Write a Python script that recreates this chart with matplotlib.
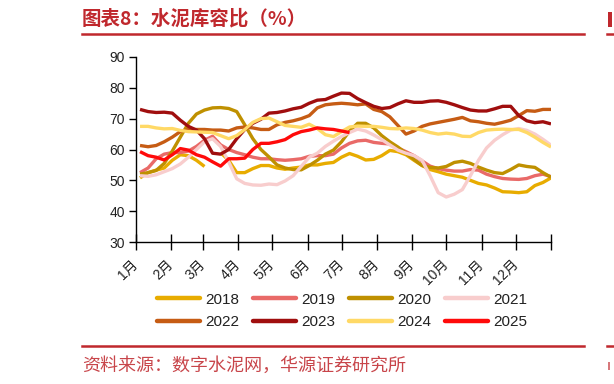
import numpy as np
import matplotlib
matplotlib.use('Agg')
import matplotlib.pyplot as plt
from matplotlib.patches import Rectangle

nan = np.nan
months = ['1月', '2月', '3月', '4月', '5月', '6月', '7月', '8月', '9月', '10月', '11月', '12月']
month_days = [31, 28, 31, 30, 31, 30, 31, 31, 30, 31, 30, 31]
years = ['2018', '2019', '2020', '2021', '2022', '2023', '2024', '2025']

s2018 = [50.8, 52.5, 53.3, 54.0, 56.5, 58.3, 58.0, 56.5, 54.5, nan,
         59.0, 56.5, 52.5, 52.5, 53.8, 54.8, 54.8, 54.0, 53.6, 54.0,
         54.3, 55.0, 55.0, 55.5, 55.8, 57.5, 58.7, 57.8, 56.6, 56.8,
         58.0, 59.7, 59.3, 58.3, 56.5, 54.8, 53.5, 52.8, 52.0, 51.5,
         51.0, 50.0, 49.0, 48.5, 47.5, 46.3, 46.2, 46.0, 46.3, 48.3,
         49.3, 50.8]
s2019 = [52.5, 54.0, 57.0, 58.5, 59.0, 59.0, 59.5, 61.0, 63.0, 64.3,
         61.5, 60.0, 59.0, 58.3, 57.5, 57.0, 57.0, 56.7, 56.5, 56.7,
         57.0, 57.8, 58.0, 58.0, 58.5, 60.5, 62.0, 62.8, 63.0, 62.3,
         62.0, 61.8, 60.5, 59.3, 58.0, 56.3, 54.6, 53.8, 53.3, 53.0,
         53.0, 53.5, 53.3, 52.0, 51.2, 50.6, 50.4, 50.3, 50.6, 51.5,
         52.0, 51.2]
s2020 = [52.0, 52.5, 53.2, 55.5, 59.5, 64.0, 68.5, 71.5, 72.8, 73.5,
         73.6, 73.3, 72.3, 68.0, 63.5, 60.0, 57.6, 55.0, 54.0, 53.5,
         53.4, 54.8, 56.5, 58.5, 59.8, 62.5, 66.0, 68.5, 68.5, 67.0,
         64.5, 62.5, 60.8, 58.8, 56.8, 54.8, 54.2, 54.0, 54.5, 55.8,
         56.2, 55.5, 54.3, 53.3, 52.5, 52.2, 53.5, 55.0, 54.5, 54.2,
         52.5, 51.0]
s2021 = [51.5, 51.3, 51.8, 52.8, 53.8, 55.3, 57.5, 60.0, 62.5, 63.5,
         61.0, 56.0, 50.5, 49.0, 48.5, 48.4, 48.8, 48.6, 49.8, 51.5,
         54.5, 57.5, 58.8, 61.0, 62.7, 64.2, 65.5, 66.6, 66.0, 64.7,
         63.2, 61.5, 59.8, 58.8, 58.0, 56.5, 51.5, 46.0, 44.6, 45.5,
         47.0, 51.5, 56.5, 60.5, 63.0, 64.8, 66.3, 66.8, 66.2, 65.0,
         63.3, 61.4]
s2022 = [61.3, 60.9, 61.3, 62.5, 64.0, 65.8, 66.5, 66.5, 66.5, 66.3,
         66.3, 66.0, 67.0, 67.3, 67.0, 66.5, 66.5, 68.0, 68.8, 69.3,
         70.0, 71.0, 73.5, 74.5, 74.8, 75.0, 74.8, 74.5, 74.8, 73.0,
         72.3, 70.6, 67.8, 65.0, 66.0, 67.5, 68.3, 68.8, 69.3, 69.8,
         70.4, 69.3, 69.0, 68.5, 68.2, 68.8, 69.5, 71.0, 72.6, 72.4,
         73.0, 73.0]
s2023 = [73.0, 72.3, 72.0, 72.1, 71.8, 69.5, 67.5, 66.3, 63.5, 58.8,
         58.5, 60.0, 63.5, 66.5, 68.5, 69.8, 71.8, 72.0, 72.5, 73.2,
         73.7, 75.0, 76.0, 76.2, 77.3, 78.3, 78.2, 76.5, 75.2, 74.0,
         73.3, 73.6, 74.8, 75.8, 75.3, 75.3, 75.7, 75.8, 75.3, 74.5,
         73.6, 72.8, 72.5, 72.5, 73.2, 74.0, 74.0, 71.0, 69.3, 68.7,
         69.0, 68.3]
s2024 = [67.5, 67.5, 67.0, 66.7, 66.8, 66.2, 65.8, 65.7, 65.6, 65.5,
         64.5, 63.5, 64.5, 66.5, 68.8, 70.0, 70.2, 69.0, 67.8, 67.5,
         67.2, 68.2, 66.8, 64.8, 64.2, 65.8, 67.3, 67.6, 67.5, 67.5,
         67.2, 66.8, 66.7, 67.0, 66.8, 66.3, 65.5, 65.0, 65.3, 65.0,
         64.3, 64.2, 65.5, 66.3, 66.5, 66.6, 66.5, 66.5, 65.5, 64.0,
         62.3, 60.8]
s2025 = [59.3, 58.0, 57.5, 56.6, 58.3, 60.3, 59.8, 58.3, 57.5, 56.0,
         54.6, 57.0, 57.0, 57.2, 60.0, 62.0, 62.0, 62.5, 63.2, 64.8,
         65.8, 66.3, 67.0, 66.7, 66.5, 66.0, 65.5]
series = [s2018, s2019, s2020, s2021, s2022, s2023, s2024, s2025]
colors = ['#E8AC00', '#E96A68', '#BF9000', '#F8CDCD',
          '#C65C14', '#A00E0E', '#FFD966', '#FF0A0A']

W, H = 614, 384
fig = plt.figure(figsize=(W / 100, H / 100), dpi=100)
ax = fig.add_axes([136 / W, 1 - 242 / H, 415 / W, 185 / H])

handles = []
for yr, vals, c in zip(years, series, colors):
    wk = np.arange(1, len(vals) + 1)
    h, = ax.plot(wk, vals, color=c, lw=2.4, label=yr,
                 solid_joinstyle='round', solid_capstyle='butt')
    handles.append(h)

ax.set_ylim(30, 90)
ax.set_yticks(np.arange(30, 91, 10))
ax.set_xlim(0.5, 52)
cum = np.concatenate([[0], np.cumsum(month_days)])
ticks = 0.5 + cum / 365 * 51.5
ax.set_xticks(ticks)
ax.set_xticklabels(months + [''])

for s in ['top', 'right']:
    ax.spines[s].set_visible(False)
for s in ['left', 'bottom']:
    ax.spines[s].set_color('black')
    ax.spines[s].set_linewidth(1.0)

ax.tick_params(axis='y', direction='out', length=5, width=1, pad=3,
               labelsize=10, labelcolor='#222222')
ax.tick_params(axis='x', direction='inout', length=11, width=1, pad=9,
               labelsize=10, labelcolor='#222222')
for t in ax.get_yticklabels():
    t.set_fontfamily(['Liberation Sans', 'DejaVu Sans'])
for t in ax.get_xticklabels():
    t.set_fontfamily(['Liberation Sans', 'Noto Sans CJK SC'])
    t.set_rotation(45)
    t.set_ha('right')
    t.set_va('center')
    t.set_rotation_mode('anchor')

# row-major legend order for 2 rows x 4 columns
order = [0, 4, 1, 5, 2, 6, 3, 7]
leg = fig.legend([handles[i] for i in order], [years[i] for i in order],
                 loc='center', bbox_to_anchor=(342 / W, 1 - 311 / H), ncol=4,
                 frameon=False, fontsize=11, handlelength=2.8, handletextpad=0.35,
                 columnspacing=0.9, labelspacing=0.55, borderpad=0)
for line in leg.get_lines():
    line.set_linewidth(3.2)
    line.set_solid_capstyle('round')
for t in leg.get_texts():
    t.set_fontfamily(['Liberation Sans', 'DejaVu Sans'])
    t.set_color('#222222')

red = '#C0282D'
fig.text(82 / W, 1 - 19 / H, '图表8：水泥库容比（%）', fontsize=14,
         fontweight='bold', color=red, family=['Noto Sans CJK SC', 'DejaVu Sans'],
         ha='left', va='center')
fig.add_artist(plt.Line2D([82 / W, 584 / W], [1 - 34 / H, 1 - 34 / H],
                          color=red, lw=1.8, transform=fig.transFigure))
fig.add_artist(plt.Line2D([607 / W, 1.0], [1 - 34 / H, 1 - 34 / H],
                          color=red, lw=1.8, transform=fig.transFigure))
fig.text(82 / W, 1 - 366 / H, '资料来源：数字水泥网，华源证券研究所', fontsize=13,
         color='#C8454A', family=['Noto Sans CJK SC', 'DejaVu Sans'],
         ha='left', va='center')
fig.add_artist(plt.Line2D([82 / W, 584 / W], [1 - 346 / H, 1 - 346 / H],
                          color=red, lw=1.8, transform=fig.transFigure))
fig.add_artist(plt.Line2D([607 / W, 1.0], [1 - 346 / H, 1 - 346 / H],
                          color=red, lw=1.8, transform=fig.transFigure))
# fragments of the neighbouring panel at the right edge
fig.add_artist(Rectangle((608 / W, 1 - 27 / H), 4 / W, 15 / H, color=red,
                         transform=fig.transFigure, lw=0))
fig.add_artist(Rectangle((608 / W, 1 - 370 / H), 2 / W, 8 / H, color='#D7787B',
                         transform=fig.transFigure, lw=0))

fig.savefig('out.png', dpi=100)
